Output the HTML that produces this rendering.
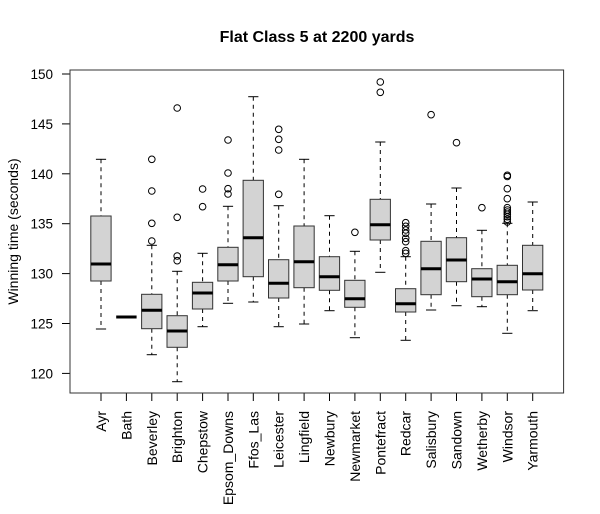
<!DOCTYPE html>
<html>
<head>
<meta charset="utf-8">
<style>
html,body{margin:0;padding:0;background:#fff;}
svg{display:block;}
text{font-family:"Liberation Sans",Arial,sans-serif;fill:#000;}
</style>
</head>
<body>
<svg width="600" height="514" viewBox="0 0 600 514" xmlns="http://www.w3.org/2000/svg">
<rect x="0" y="0" width="600" height="514" fill="#fff"/>
<text x="317" y="42" font-size="16" font-weight="bold" text-anchor="middle">Flat Class 5 at 2200 yards</text>
<text transform="translate(18,231.5) rotate(-90)" font-size="14" text-anchor="middle">Winning time (seconds)</text>

<!-- y axis ticks & labels -->
<g stroke="#000" stroke-width="1">
<line x1="62" y1="74" x2="70" y2="74"/>
<line x1="62" y1="123.9" x2="70" y2="123.9"/>
<line x1="62" y1="173.8" x2="70" y2="173.8"/>
<line x1="62" y1="223.7" x2="70" y2="223.7"/>
<line x1="62" y1="273.6" x2="70" y2="273.6"/>
<line x1="62" y1="323.5" x2="70" y2="323.5"/>
<line x1="62" y1="373.4" x2="70" y2="373.4"/>
</g>
<g font-size="13.5" text-anchor="end">
<text x="53" y="79">150</text>
<text x="53" y="128.9">145</text>
<text x="53" y="178.8">140</text>
<text x="53" y="228.7">135</text>
<text x="53" y="278.6">130</text>
<text x="53" y="328.5">125</text>
<text x="53" y="378.4">120</text>
</g>

<!-- x axis ticks -->
<g stroke="#000" stroke-width="1">
<line x1="101" y1="393" x2="101" y2="401"/>
<line x1="126.4" y1="393" x2="126.4" y2="401"/>
<line x1="151.8" y1="393" x2="151.8" y2="401"/>
<line x1="177.2" y1="393" x2="177.2" y2="401"/>
<line x1="202.6" y1="393" x2="202.6" y2="401"/>
<line x1="228" y1="393" x2="228" y2="401"/>
<line x1="253.3" y1="393" x2="253.3" y2="401"/>
<line x1="278.7" y1="393" x2="278.7" y2="401"/>
<line x1="304.1" y1="393" x2="304.1" y2="401"/>
<line x1="329.5" y1="393" x2="329.5" y2="401"/>
<line x1="354.9" y1="393" x2="354.9" y2="401"/>
<line x1="380.3" y1="393" x2="380.3" y2="401"/>
<line x1="405.7" y1="393" x2="405.7" y2="401"/>
<line x1="431.1" y1="393" x2="431.1" y2="401"/>
<line x1="456.5" y1="393" x2="456.5" y2="401"/>
<line x1="481.9" y1="393" x2="481.9" y2="401"/>
<line x1="507.3" y1="393" x2="507.3" y2="401"/>
<line x1="532.7" y1="393" x2="532.7" y2="401"/>
</g>
<g font-size="14" text-anchor="end">
<text transform="translate(106,411) rotate(-90)">Ayr</text>
<text transform="translate(131.4,411) rotate(-90)">Bath</text>
<text transform="translate(156.8,411) rotate(-90)">Beverley</text>
<text transform="translate(182.2,411) rotate(-90)">Brighton</text>
<text transform="translate(207.6,411) rotate(-90)">Chepstow</text>
<text transform="translate(233,411) rotate(-90)">Epsom_Downs</text>
<text transform="translate(258.3,411) rotate(-90)">Ffos_Las</text>
<text transform="translate(283.7,411) rotate(-90)">Leicester</text>
<text transform="translate(309.1,411) rotate(-90)">Lingfield</text>
<text transform="translate(334.5,411) rotate(-90)">Newbury</text>
<text transform="translate(359.9,411) rotate(-90)">Newmarket</text>
<text transform="translate(385.3,411) rotate(-90)">Pontefract</text>
<text transform="translate(410.7,411) rotate(-90)">Redcar</text>
<text transform="translate(436.1,411) rotate(-90)">Salisbury</text>
<text transform="translate(461.5,411) rotate(-90)">Sandown</text>
<text transform="translate(486.9,411) rotate(-90)">Wetherby</text>
<text transform="translate(512.3,411) rotate(-90)">Windsor</text>
<text transform="translate(537.7,411) rotate(-90)">Yarmouth</text>
</g>

<!-- whiskers (dashed) -->
<g stroke="#000" stroke-width="1" stroke-dasharray="4,4" fill="none">
<line x1="101" y1="159.3" x2="101" y2="216"/><line x1="101" y1="281" x2="101" y2="329"/>
<line x1="151.8" y1="245.3" x2="151.8" y2="294.3"/><line x1="151.8" y1="328.7" x2="151.8" y2="354.7"/>
<line x1="177.2" y1="271.3" x2="177.2" y2="315.7"/><line x1="177.2" y1="347.3" x2="177.2" y2="381.7"/>
<line x1="202.6" y1="253.3" x2="202.6" y2="282.3"/><line x1="202.6" y1="309" x2="202.6" y2="326.7"/>
<line x1="228" y1="206.3" x2="228" y2="247.3"/><line x1="228" y1="281" x2="228" y2="303.3"/>
<line x1="253.3" y1="96.7" x2="253.3" y2="180.3"/><line x1="253.3" y1="276.7" x2="253.3" y2="302"/>
<line x1="278.7" y1="205.7" x2="278.7" y2="259.7"/><line x1="278.7" y1="298" x2="278.7" y2="326.7"/>
<line x1="304.1" y1="159.3" x2="304.1" y2="226"/><line x1="304.1" y1="287.7" x2="304.1" y2="324"/>
<line x1="329.5" y1="215.7" x2="329.5" y2="256.7"/><line x1="329.5" y1="290.3" x2="329.5" y2="310.7"/>
<line x1="354.9" y1="251.3" x2="354.9" y2="280.3"/><line x1="354.9" y1="307.3" x2="354.9" y2="337.7"/>
<line x1="380.3" y1="142" x2="380.3" y2="199.3"/><line x1="380.3" y1="240" x2="380.3" y2="272.3"/>
<line x1="405.7" y1="256.7" x2="405.7" y2="288.7"/><line x1="405.7" y1="312" x2="405.7" y2="340.3"/>
<line x1="431.1" y1="204" x2="431.1" y2="241.3"/><line x1="431.1" y1="294.7" x2="431.1" y2="310"/>
<line x1="456.5" y1="188" x2="456.5" y2="237.7"/><line x1="456.5" y1="281.7" x2="456.5" y2="305.7"/>
<line x1="481.9" y1="230.3" x2="481.9" y2="268.7"/><line x1="481.9" y1="296.7" x2="481.9" y2="306.7"/>
<line x1="507.3" y1="223.3" x2="507.3" y2="265.3"/><line x1="507.3" y1="294.7" x2="507.3" y2="333.3"/>
<line x1="532.7" y1="202" x2="532.7" y2="245.3"/><line x1="532.7" y1="290" x2="532.7" y2="310.7"/>
</g>

<!-- staples -->
<g stroke="#000" stroke-width="1">
<line x1="95.9" y1="159.3" x2="106.1" y2="159.3"/><line x1="95.9" y1="329" x2="106.1" y2="329"/>
<line x1="146.7" y1="245.3" x2="156.9" y2="245.3"/><line x1="146.7" y1="354.7" x2="156.9" y2="354.7"/>
<line x1="172.1" y1="271.3" x2="182.3" y2="271.3"/><line x1="172.1" y1="381.7" x2="182.3" y2="381.7"/>
<line x1="197.5" y1="253.3" x2="207.7" y2="253.3"/><line x1="197.5" y1="326.7" x2="207.7" y2="326.7"/>
<line x1="222.9" y1="206.3" x2="233.1" y2="206.3"/><line x1="222.9" y1="303.3" x2="233.1" y2="303.3"/>
<line x1="248.2" y1="96.7" x2="258.4" y2="96.7"/><line x1="248.2" y1="302" x2="258.4" y2="302"/>
<line x1="273.6" y1="205.7" x2="283.8" y2="205.7"/><line x1="273.6" y1="326.7" x2="283.8" y2="326.7"/>
<line x1="299" y1="159.3" x2="309.2" y2="159.3"/><line x1="299" y1="324" x2="309.2" y2="324"/>
<line x1="324.4" y1="215.7" x2="334.6" y2="215.7"/><line x1="324.4" y1="310.7" x2="334.6" y2="310.7"/>
<line x1="349.8" y1="251.3" x2="360" y2="251.3"/><line x1="349.8" y1="337.7" x2="360" y2="337.7"/>
<line x1="375.2" y1="142" x2="385.4" y2="142"/><line x1="375.2" y1="272.3" x2="385.4" y2="272.3"/>
<line x1="400.6" y1="256.7" x2="410.8" y2="256.7"/><line x1="400.6" y1="340.3" x2="410.8" y2="340.3"/>
<line x1="426" y1="204" x2="436.2" y2="204"/><line x1="426" y1="310" x2="436.2" y2="310"/>
<line x1="451.4" y1="188" x2="461.6" y2="188"/><line x1="451.4" y1="305.7" x2="461.6" y2="305.7"/>
<line x1="476.8" y1="230.3" x2="487" y2="230.3"/><line x1="476.8" y1="306.7" x2="487" y2="306.7"/>
<line x1="502.2" y1="223.3" x2="512.4" y2="223.3"/><line x1="502.2" y1="333.3" x2="512.4" y2="333.3"/>
<line x1="527.6" y1="202" x2="537.8" y2="202"/><line x1="527.6" y1="310.7" x2="537.8" y2="310.7"/>
</g>

<!-- boxes -->
<g fill="#d3d3d3" stroke="#333" stroke-width="1">
<rect x="90.8" y="216" width="20.3" height="65"/>
<rect x="141.6" y="294.3" width="20.3" height="34.4"/>
<rect x="167" y="315.7" width="20.3" height="31.6"/>
<rect x="192.4" y="282.3" width="20.3" height="26.7"/>
<rect x="217.8" y="247.3" width="20.3" height="33.7"/>
<rect x="243.1" y="180.3" width="20.3" height="96.4"/>
<rect x="268.5" y="259.7" width="20.3" height="38.3"/>
<rect x="293.9" y="226" width="20.3" height="61.7"/>
<rect x="319.3" y="256.7" width="20.3" height="33.6"/>
<rect x="344.7" y="280.3" width="20.3" height="27"/>
<rect x="370.1" y="199.3" width="20.3" height="40.7"/>
<rect x="395.5" y="288.7" width="20.3" height="23.3"/>
<rect x="420.9" y="241.3" width="20.3" height="53.4"/>
<rect x="446.3" y="237.7" width="20.3" height="44"/>
<rect x="471.7" y="268.7" width="20.3" height="28"/>
<rect x="497.1" y="265.3" width="20.3" height="29.4"/>
<rect x="522.5" y="245.3" width="20.3" height="44.7"/>
</g>

<!-- medians -->
<g stroke="#000" stroke-width="3">
<line x1="90.8" y1="264" x2="111.1" y2="264"/>
<line x1="116.2" y1="317" x2="136.6" y2="317"/>
<line x1="141.6" y1="310.3" x2="161.9" y2="310.3"/>
<line x1="167" y1="331" x2="187.3" y2="331"/>
<line x1="192.4" y1="293" x2="212.7" y2="293"/>
<line x1="217.8" y1="264.7" x2="238.1" y2="264.7"/>
<line x1="243.1" y1="237.7" x2="263.4" y2="237.7"/>
<line x1="268.5" y1="283.3" x2="288.8" y2="283.3"/>
<line x1="293.9" y1="261.7" x2="314.2" y2="261.7"/>
<line x1="319.3" y1="276.7" x2="339.6" y2="276.7"/>
<line x1="344.7" y1="298.7" x2="365" y2="298.7"/>
<line x1="370.1" y1="224.7" x2="390.4" y2="224.7"/>
<line x1="395.5" y1="303.7" x2="415.8" y2="303.7"/>
<line x1="420.9" y1="268.7" x2="441.2" y2="268.7"/>
<line x1="446.3" y1="260" x2="466.6" y2="260"/>
<line x1="471.7" y1="279" x2="492" y2="279"/>
<line x1="497.1" y1="281.7" x2="517.4" y2="281.7"/>
<line x1="522.5" y1="273.7" x2="542.8" y2="273.7"/>
</g>

<!-- outliers -->
<g fill="none" stroke="#000" stroke-width="1">
<circle cx="151.8" cy="159.3" r="3.3"/><circle cx="151.8" cy="191" r="3.3"/><circle cx="151.8" cy="223.3" r="3.3"/><circle cx="151.8" cy="241" r="3.3"/>
<circle cx="177.2" cy="108" r="3.3"/><circle cx="177.2" cy="217.3" r="3.3"/><circle cx="177.2" cy="256" r="3.3"/><circle cx="177.2" cy="260.7" r="3.3"/>
<circle cx="202.6" cy="189" r="3.3"/><circle cx="202.6" cy="206.7" r="3.3"/>
<circle cx="228" cy="140" r="3.3"/><circle cx="228" cy="173" r="3.3"/><circle cx="228" cy="188.7" r="3.3"/><circle cx="228" cy="194" r="3.3"/>
<circle cx="278.7" cy="129.3" r="3.3"/><circle cx="278.7" cy="139.3" r="3.3"/><circle cx="278.7" cy="150" r="3.3"/><circle cx="278.7" cy="194.3" r="3.3"/>
<circle cx="354.9" cy="232.3" r="3.3"/>
<circle cx="380.3" cy="82" r="3.3"/><circle cx="380.3" cy="92.3" r="3.3"/>
<circle cx="405.7" cy="222.7" r="3.3"/><circle cx="405.7" cy="226.3" r="3.3"/><circle cx="405.7" cy="230" r="3.3"/><circle cx="405.7" cy="233.3" r="3.3"/><circle cx="405.7" cy="238.3" r="3.3"/><circle cx="405.7" cy="241.7" r="3.3"/><circle cx="405.7" cy="250.7" r="3.3"/><circle cx="405.7" cy="253.3" r="3.3"/>
<circle cx="431.1" cy="114.7" r="3.3"/>
<circle cx="456.5" cy="142.7" r="3.3"/>
<circle cx="481.9" cy="207.7" r="3.3"/>
<circle cx="507.3" cy="175.3" r="3.3"/><circle cx="507.3" cy="176.5" r="3.3"/><circle cx="507.3" cy="188.7" r="3.3"/><circle cx="507.3" cy="198.7" r="3.3"/><circle cx="507.3" cy="207.7" r="3.3"/><circle cx="507.3" cy="210" r="3.3"/><circle cx="507.3" cy="212" r="3.3"/><circle cx="507.3" cy="214.3" r="3.3"/><circle cx="507.3" cy="216.7" r="3.3"/><circle cx="507.3" cy="219.3" r="3.3"/><circle cx="507.3" cy="222" r="3.3"/>
</g>

<!-- frame -->
<rect x="70" y="70" width="493.6" height="323" fill="none" stroke="#333" stroke-width="1"/>
</svg>
</body>
</html>
